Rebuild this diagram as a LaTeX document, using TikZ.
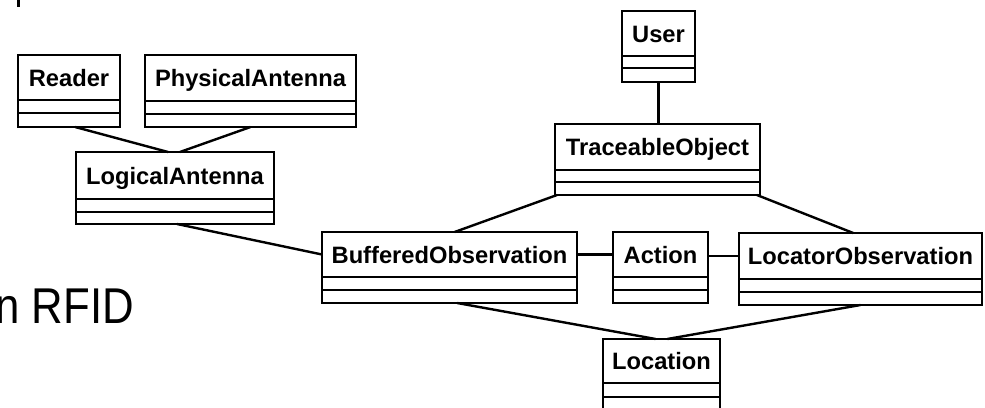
\documentclass[tikz,border=0pt]{standalone}
\usepackage{fontspec}
\setmainfont{Liberation Sans}
\usetikzlibrary{calc}

% A UML class box: name, x1, y1, x2, y2, first separator, second separator, class name
\newcommand\umlclass[8]{%
  \node[classbox, minimum width={(#4-#2)*1pt}, minimum height={(#5-#3)*1pt}]
    (#1) at ({(#2+#4)/2},{(#3+#5)/2}) {};
  \node[classname] (#1-t) at ({(#2+#4)/2},{(#3+#6)/2}) {#8};
  \draw[sepline] (#2,#6) -- (#4,#6);
  \draw[sepline] (#2,#7) -- (#4,#7);
}

\begin{document}
\begin{tikzpicture}[x=1pt, y=-1pt,
  classbox/.style={draw=black, line width=2.4pt, inner sep=0pt, outer sep=0pt, fill=white},
  classname/.style={inner sep=0pt, outer sep=0pt, text height=17pt, text depth=0pt,
    font=\fontsize{23.7}{28}\selectfont\bfseries},
  sepline/.style={line width=2.4pt},
  assoc/.style={draw=black, line width=2.4pt}]

\useasboundingbox (0,0) rectangle (985,407);
\clip (0,0) rectangle (985,407);
\fill[white] (0,0) rectangle (985,407);

% stray mark at the upper left
\fill[black] (17,0) rectangle (20,7);

% large slide caption on the left
\node[anchor=base east, inner sep=0pt, xscale=0.87,
  font=\fontsize{50.3}{60}\selectfont] (caption) at (134,323) {n RFID};

% classes
\umlclass{reader}{18}{55}{120}{127}{100}{113}{Reader}
\umlclass{physical}{145}{55}{356}{127}{101}{114}{PhysicalAntenna}
\umlclass{logical}{76}{152}{274}{224}{199}{212}{LogicalAntenna}
\umlclass{user}{622}{11}{695}{82}{56}{68}{User}
\umlclass{traceable}{555}{124}{760}{195}{170}{182}{TraceableObject}
\umlclass{buffered}{322}{232}{577}{303}{277}{290}{BufferedObservation}
\umlclass{action}{613}{232}{708}{303}{277}{290}{Action}
\umlclass{locator}{739}{233}{982}{305}{279}{292}{LocatorObservation}
\umlclass{location}{603}{339}{720}{411}{383}{397}{Location}

% associations
\draw[assoc] ($(reader.south west)!0.56!(reader.south east)$)
  -- ($(logical.north west)!0.465!(logical.north east)$);
\draw[assoc] ($(physical.south west)!0.50!(physical.south east)$)
  -- ($(logical.north west)!0.525!(logical.north east)$);
\draw[assoc] ($(logical.south west)!0.51!(logical.south east)$)
  -- (buffered.west |- buffered-t);
\draw[assoc] (user.south) -- (user.south |- traceable.north);
\draw[assoc] ($(traceable.south west)!0.01!(traceable.south east)$)
  -- ($(buffered.north west)!0.52!(buffered.north east)$);
\draw[assoc] ($(traceable.south west)!0.985!(traceable.south east)$)
  -- ($(locator.north west)!0.47!(locator.north east)$);
\draw[assoc] (buffered.east |- buffered-t) -- (action.west |- buffered-t);
\draw[assoc] (action.east |- locator-t) -- (locator.west |- locator-t);
\draw[assoc] ($(buffered.south west)!0.53!(buffered.south east)$)
  -- ($(location.north west)!0.45!(location.north east)$);
\draw[assoc] ($(locator.south west)!0.50!(locator.south east)$)
  -- ($(location.north west)!0.55!(location.north east)$);
\end{tikzpicture}
\end{document}
